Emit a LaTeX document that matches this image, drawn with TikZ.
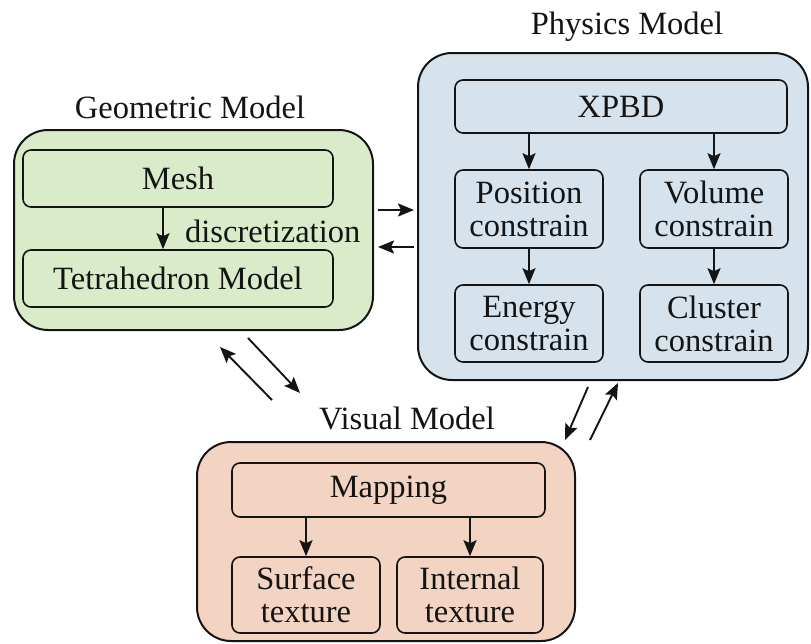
\documentclass[tikz,border=0pt]{standalone}
\usepackage{fontspec}
\setmainfont{Liberation Serif}
\usetikzlibrary{arrows.meta,calc}
\definecolor{geofill}{RGB}{218,235,201}
\definecolor{physfill}{RGB}{214,227,237}
\definecolor{visfill}{RGB}{243,211,194}
\definecolor{ink}{RGB}{20,20,20}
\begin{document}
\begin{tikzpicture}[x=1pt,y=-1pt,
  outer/.style={draw=ink,line width=2pt,rounded corners=34pt,inner sep=0pt},
  inner/.style={draw=ink,line width=1.6pt,rounded corners=8pt,inner sep=0pt,align=center,text=ink,font=\fontsize{32.5}{33}\selectfont},
  ttl/.style={text=ink,font=\fontsize{32.5}{34}\selectfont,inner sep=0pt},
  arr/.style={draw=ink,line width=1.9pt,-{Stealth[length=16pt,width=13pt,inset=3pt]}}]
\useasboundingbox (0,0) rectangle (811,643);
% Geometric model
\node[outer,fill=geofill,minimum width=359pt,minimum height=200pt] (geo) at (193.5,230) {};
\node[ttl] (geot) at (190,107) {Geometric Model};
\node[inner,fill=geofill,minimum width=310pt,minimum height=57pt] (mesh) at (178,178.5) {Mesh};
\node[inner,fill=geofill,minimum width=310pt,minimum height=57pt] (tet) at (178,278.5) {Tetrahedron Model};
\node[ttl,anchor=west] (disc) at (185,231) {discretization};
\draw[arr] ([xshift=-15pt]mesh.south) -- ([xshift=-15pt]mesh.south |- tet.north);
% Physics model
\node[outer,fill=physfill,minimum width=390pt,minimum height=327pt] (phys) at (613,216.5) {};
\node[ttl] (physt) at (627,27) {Physics Model};
\node[inner,fill=physfill,minimum width=332pt,minimum height=53pt] (xpbd) at (621,106.5) {XPBD};
\node[inner,fill=physfill,minimum width=148pt,minimum height=78pt] (pos) at (529,209) {Position\\constrain};
\node[inner,fill=physfill,minimum width=148pt,minimum height=78pt] (vol) at (714,209) {Volume\\constrain};
\node[inner,fill=physfill,minimum width=148pt,minimum height=77pt] (ene) at (529,323.5) {Energy\\constrain};
\node[inner,fill=physfill,minimum width=148pt,minimum height=77pt] (clu) at (714,323.5) {Cluster\\constrain};
\draw[arr] (xpbd.south -| pos.north) -- (pos.north);
\draw[arr] (xpbd.south -| vol.north) -- (vol.north);
\draw[arr] (pos.south) -- (ene.north);
\draw[arr] (vol.south) -- (clu.north);
% Visual model
\node[outer,fill=visfill,minimum width=378pt,minimum height=199pt] (vis) at (386,541.5) {};
\node[ttl] (vist) at (407,418) {Visual Model};
\node[inner,fill=visfill,minimum width=313pt,minimum height=54pt] (map) at (388.5,490) {Mapping};
\node[inner,fill=visfill,minimum width=148pt,minimum height=76pt] (surf) at (306,595) {Surface\\texture};
\node[inner,fill=visfill,minimum width=146pt,minimum height=76pt] (intl) at (470,595) {Internal\\texture};
\draw[arr] (map.south -| surf.north) -- (surf.north);
\draw[arr] (map.south -| intl.north) -- (intl.north);
% Geometric <-> Physics
\draw[arr,shorten <=4pt,shorten >=3pt] (geo.east |- 0,210) -- (phys.west |- 0,210);
\draw[arr,shorten <=3pt,shorten >=4pt] (phys.west |- 0,247) -- (geo.east |- 0,247);
% Geometric <-> Visual
\coordinate (ga) at (272,400);
\coordinate (gb) at (220,347);
\coordinate (gc) at (248,338);
\coordinate (gd) at (300,393);
\draw[arr] (ga) -- (gb);
\draw[arr] (gc) -- (gd);
% Physics <-> Visual
\coordinate (pa) at (588,387);
\coordinate (pb) at (565,440);
\coordinate (pc) at (590,440);
\coordinate (pd) at (618,383);
\draw[arr] (pa) -- (pb);
\draw[arr] (pc) -- (pd);
\end{tikzpicture}
\end{document}
